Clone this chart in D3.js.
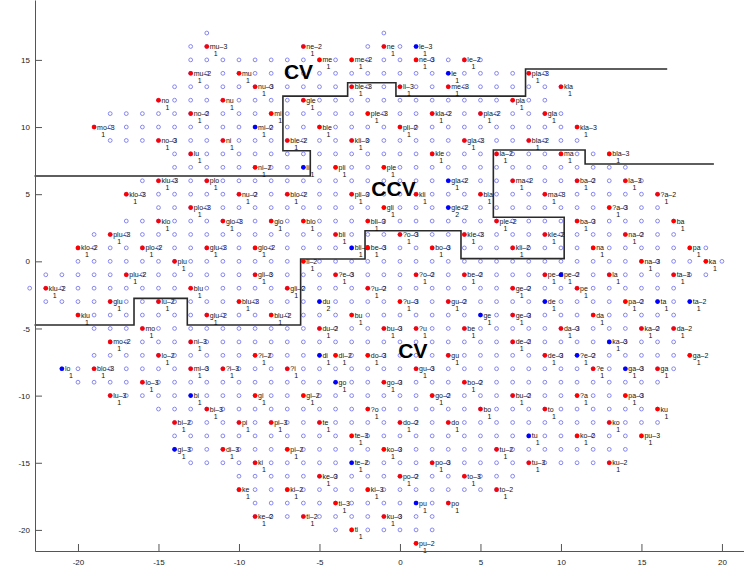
<!DOCTYPE html>
<html>
<head>
<meta charset="utf-8">
<script src="https://cdn.jsdelivr.net/npm/d3@7"></script>
<style>
body { margin: 0; background: #fff; }
svg text { font-family: "Liberation Sans", Arial, Helvetica, sans-serif; }
</style>
</head>
<body>
<div class="chart"></div>
<script>
var width = 744
var height = 567

var xTicks = [-20, -15, -10, -5, 0, 5, 10, 15, 20]
var yTicks = [-20, -15, -10, -5, 0, 5, 10, 15]

// open circle grid, one entry per run of a row: [y, first x, last x]
var gridRows = [
    [17, -12, -12], [17, -1, -1],
    [16, -13, -12], [16, -6, -6], [16, -2, 1],
    [15, -13, 5],
    [14, -13, 9],
    [13, -14, 10],
    [12, -15, 9],
    [11, -18, 10],
    [10, -19, 11],
    [9, -18, 11],
    [8, -14, 13],
    [7, -14, 14],
    [6, -16, 15],
    [5, -17, 16],
    [4, -15, 16],
    [3, -17, 17],
    [2, -19, 17],
    [1, -20, 19],
    [0, -20, 20],
    [-1, -22, 19],
    [-2, -23, 17],
    [-3, -22, 18],
    [-4, -20, 17],
    [-5, -19, 17],
    [-6, -18, 17],
    [-7, -19, 18],
    [-8, -21, 17],
    [-9, -20, 16],
    [-10, -18, 15],
    [-11, -15, 16],
    [-12, -14, 16],
    [-13, -14, 15],
    [-14, -14, 14],
    [-15, -13, 13],
    [-16, -10, 7],
    [-17, -10, 6],
    [-18, -9, 3],
    [-19, -9, 2],
    [-20, -4, 2],
    [-21, 1, 1]
]

// labelled syllables: [label, x, y, count, group] (r = red, b = blue)
var syllables = [
    ['mu-3', -12, 16, 1, 'r'], ['ne-2', -6, 16, 1, 'r'], ['ne', -1, 16, 1, 'r'], ['le-3', 1, 16, 1, 'b'],
    ['me', -5, 15, 1, 'r'], ['me-2', -3, 15, 1, 'r'], ['ne-3', 1, 15, 1, 'r'], ['le-2', 4, 15, 1, 'r'],
    ['mu-2', -13, 14, 1, 'r'], ['mu', -10, 14, 1, 'r'], ['le', 3, 14, 1, 'b'], ['pla-3', 8, 14, 1, 'r'],
    ['nu-3', -9, 13, 1, 'r'], ['ble-3', -3, 13, 1, 'r'], ['li-3', 0, 13, 1, 'r'], ['me-3', 3, 13, 1, 'r'], ['kla', 10, 13, 1, 'r'],
    ['no', -15, 12, 1, 'r'], ['nu', -11, 12, 1, 'r'], ['gle', -6, 12, 1, 'r'], ['pla', 7, 12, 1, 'r'],
    ['no-2', -13, 11, 1, 'r'], ['mi', -8, 11, 1, 'r'], ['ple-3', -2, 11, 1, 'r'], ['kla-2', 2, 11, 1, 'r'], ['pla-2', 5, 11, 1, 'r'], ['gla', 9, 11, 1, 'r'],
    ['mo-3', -19, 10, 1, 'r'], ['mi-2', -9, 10, 1, 'b'], ['ble', -5, 10, 1, 'r'], ['pli-2', 0, 10, 1, 'r'], ['kla-3', 11, 10, 1, 'r'],
    ['no-3', -15, 9, 1, 'r'], ['ni', -11, 9, 1, 'r'], ['ble-2', -7, 9, 1, 'r'], ['kli-3', -3, 9, 1, 'r'], ['gla-3', 4, 9, 1, 'r'], ['bla-2', 8, 9, 1, 'r'],
    ['lu', -13, 8, 1, 'r'], ['kle', 2, 8, 1, 'r'], ['la-2', 6, 8, 1, 'r'], ['ma', 10, 8, 1, 'r'], ['bla-3', 13, 8, 1, 'r'],
    ['ni-2', -9, 7, 1, 'r'], ['li', -6, 7, 1, 'b'], ['pli', -4, 7, 1, 'r'], ['ple', -1, 7, 1, 'r'],
    ['klu-3', -15, 6, 1, 'r'], ['plo', -12, 6, 1, 'r'], ['gla-2', 3, 6, 1, 'b'], ['ma-2', 7, 6, 1, 'r'], ['ba-2', 11, 6, 1, 'r'], ['la-3', 14, 6, 1, 'r'],
    ['klo-3', -17, 5, 1, 'r'], ['nu-2', -10, 5, 1, 'r'], ['blo-2', -7, 5, 1, 'r'], ['pli-3', -3, 5, 1, 'r'], ['kli', 1, 5, 1, 'r'], ['bla', 5, 5, 1, 'r'], ['ma-3', 9, 5, 1, 'r'], ['?a-2', 16, 5, 1, 'r'],
    ['plo-3', -13, 4, 1, 'r'], ['gli', -1, 4, 1, 'r'], ['gle-2', 3, 4, 2, 'b'], ['?a-3', 13, 4, 1, 'r'],
    ['klo', -15, 3, 1, 'r'], ['glo-3', -11, 3, 1, 'r'], ['glo', -8, 3, 1, 'r'], ['blo', -6, 3, 1, 'r'], ['bli-3', -2, 3, 1, 'r'], ['ple-2', 6, 3, 1, 'r'], ['ba-3', 11, 3, 1, 'r'], ['ba', 17, 3, 1, 'r'],
    ['plu-3', -18, 2, 1, 'r'], ['bli', -4, 2, 1, 'r'], ['?o-3', 0, 2, 1, 'r'], ['kle-3', 4, 2, 1, 'r'], ['kle-2', 9, 2, 1, 'r'], ['na-2', 14, 2, 1, 'r'],
    ['klo-2', -20, 1, 1, 'r'], ['plo-2', -16, 1, 1, 'r'], ['glu-3', -12, 1, 1, 'r'], ['glo-2', -9, 1, 1, 'r'], ['bli-2', -3, 1, 1, 'b'], ['be-3', -2, 1, 1, 'r'], ['bo-3', 2, 1, 1, 'r'], ['kli-2', 7, 1, 1, 'r'], ['na', 12, 1, 1, 'r'], ['pa', 18, 1, 1, 'r'],
    ['plu', -14, 0, 1, 'r'], ['li-2', -6, 0, 1, 'r'], ['na-3', 15, 0, 1, 'r'], ['ka', 19, 0, 1, 'r'],
    ['plu-2', -17, -1, 1, 'r'], ['gli-3', -9, -1, 1, 'r'], ['?e-3', -4, -1, 1, 'r'], ['?o-2', 1, -1, 1, 'r'], ['be-2', 4, -1, 1, 'r'], ['pe-3', 9, -1, 1, 'r'], ['pe-2', 10, -1, 1, 'b'], ['la', 13, -1, 1, 'r'], ['ta-3', 17, -1, 1, 'r'],
    ['klu-2', -22, -2, 1, 'r'], ['blu', -13, -2, 1, 'r'], ['gli-2', -7, -2, 1, 'r'], ['?u-2', -2, -2, 1, 'r'], ['ge-2', 7, -2, 1, 'r'], ['pe', 11, -2, 1, 'r'],
    ['glu', -18, -3, 1, 'r'], ['lu-2', -15, -3, 1, 'r'], ['blu-3', -10, -3, 1, 'r'], ['du', -5, -3, 2, 'b'], ['?u-3', 0, -3, 1, 'r'], ['gu-2', 3, -3, 1, 'r'], ['de', 9, -3, 1, 'b'], ['pa-2', 14, -3, 1, 'r'], ['ta', 16, -3, 1, 'b'], ['ta-2', 18, -3, 1, 'b'],
    ['klu', -20, -4, 1, 'r'], ['glu-2', -12, -4, 1, 'r'], ['blu-2', -8, -4, 1, 'r'], ['bu', -3, -4, 1, 'r'], ['ge', 5, -4, 1, 'b'], ['ge-3', 7, -4, 1, 'r'], ['da', 12, -4, 1, 'r'],
    ['mo', -16, -5, 1, 'r'], ['du-2', -5, -5, 1, 'r'], ['bu-3', -1, -5, 1, 'r'], ['?u', 1, -5, 1, 'r'], ['be', 4, -5, 1, 'r'], ['da-3', 10, -5, 1, 'r'], ['ka-2', 15, -5, 1, 'r'], ['da-2', 17, -5, 1, 'r'],
    ['mo-2', -18, -6, 1, 'r'], ['ni-3', -13, -6, 1, 'r'], ['de-2', 7, -6, 1, 'r'], ['ka-3', 13, -6, 1, 'b'],
    ['lo-2', -15, -7, 1, 'r'], ['?i-2', -9, -7, 1, 'r'], ['di', -5, -7, 1, 'b'], ['di-2', -4, -7, 1, 'r'], ['do-3', -2, -7, 1, 'r'], ['gu', 3, -7, 1, 'r'], ['de-3', 9, -7, 1, 'r'], ['?e-2', 11, -7, 1, 'b'], ['ga-2', 18, -7, 1, 'r'],
    ['lo', -21, -8, 1, 'b'], ['blo-3', -19, -8, 1, 'r'], ['mi-3', -13, -8, 1, 'r'], ['?i-3', -11, -8, 1, 'r'], ['?i', -7, -8, 1, 'r'], ['gu-3', 1, -8, 1, 'r'], ['?e', 12, -8, 1, 'r'], ['ga-3', 14, -8, 1, 'b'], ['ga', 16, -8, 1, 'r'],
    ['lo-3', -16, -9, 1, 'r'], ['go', -4, -9, 1, 'b'], ['go-3', -1, -9, 1, 'r'], ['bo-2', 4, -9, 1, 'r'],
    ['lu-3', -18, -10, 1, 'r'], ['bi', -13, -10, 1, 'b'], ['gi', -9, -10, 1, 'r'], ['gi-2', -6, -10, 1, 'r'], ['go-2', 2, -10, 1, 'r'], ['bu-2', 7, -10, 1, 'r'], ['?a', 11, -10, 1, 'r'], ['pa-3', 14, -10, 1, 'r'],
    ['bi-3', -12, -11, 1, 'r'], ['?o', -2, -11, 1, 'r'], ['bo', 5, -11, 1, 'r'], ['to', 9, -11, 1, 'r'], ['ku', 16, -11, 1, 'r'],
    ['bi-2', -14, -12, 1, 'r'], ['pi', -10, -12, 1, 'r'], ['pi-3', -8, -12, 1, 'r'], ['te', -5, -12, 1, 'r'], ['do-2', 0, -12, 1, 'r'], ['do', 3, -12, 1, 'r'], ['ko', 13, -12, 1, 'r'],
    ['te-3', -3, -13, 1, 'r'], ['tu', 8, -13, 1, 'b'], ['ko-2', 11, -13, 1, 'r'], ['pu-3', 15, -13, 1, 'r'],
    ['gi-3', -14, -14, 1, 'b'], ['di-3', -11, -14, 1, 'r'], ['pi-2', -7, -14, 1, 'r'], ['ko-3', -1, -14, 1, 'r'], ['tu-2', 6, -14, 1, 'r'],
    ['ki', -9, -15, 1, 'r'], ['te-2', -3, -15, 1, 'b'], ['po-3', 2, -15, 1, 'r'], ['tu-3', 8, -15, 1, 'r'], ['ku-2', 13, -15, 1, 'r'],
    ['ke-3', -5, -16, 1, 'r'], ['po-2', 0, -16, 1, 'r'], ['to-3', 4, -16, 1, 'r'],
    ['ke', -10, -17, 1, 'r'], ['ki-2', -7, -17, 1, 'r'], ['ki-3', -2, -17, 1, 'r'], ['to-2', 6, -17, 1, 'r'],
    ['ti-3', -4, -18, 1, 'r'], ['pu', 1, -18, 1, 'b'], ['po', 3, -18, 1, 'r'],
    ['ke-2', -9, -19, 1, 'r'], ['ti-2', -6, -19, 1, 'r'], ['ku-3', -1, -19, 1, 'r'],
    ['ti', -3, -20, 1, 'r'],
    ['pu-2', 1, -21, 1, 'r']
]

// region borders, vertices in data units
var upperBorder = [[-22.7, 6.35], [-5.57, 6.35], [-5.57, 8.24], [-7.27, 8.24], [-7.27, 12.3], [-3.25, 12.3],
    [-3.25, 13.3], [-0.25, 13.3], [-0.25, 12.3], [7.8, 12.3], [7.8, 14.32], [16.6, 14.32]]
var lowerBorder = [[-22.7, -4.74], [-16.52, -4.74], [-16.52, -2.76], [-13.21, -2.76], [-13.21, -4.74],
    [-6.17, -4.74], [-6.17, 0.17], [-2.17, 0.17], [-2.17, 2.28], [3.79, 2.28], [3.79, 0.2], [10.2, 0.2],
    [10.2, 3.28], [5.8, 3.28], [5.8, 8.29], [11.5, 8.29], [11.5, 7.25], [19.5, 7.25]]

var regionNames = ['CV', 'CCV', 'CV']
var regionX = [-6.3, -0.4, 0.8]
var regionY = [14.1, 5.45, -6.65]

var svg = d3.select('.chart')
    .append('svg')
    .attr('width', width)
    .attr('height', height)

var x = d3.scaleLinear().domain([-22.67, 21.37]).range([35, 744])
var y = d3.scaleLinear().domain([-21.57, 19.46]).range([551, 0])

// grid of open circles
var grid = []
gridRows.forEach(function (r) {
    for (var k = r[1]; k <= r[2]; k++) grid.push({x: k, y: r[0]})
})

svg.append('g')
    .selectAll('circle')
    .data(grid)
    .enter()
    .append('circle')
    .attr('cx', function (d) { return x(d.x) })
    .attr('cy', function (d) { return y(d.y) })
    .attr('r', 1.9)
    .attr('fill', 'none')
    .attr('stroke', '#7373ee')
    .attr('stroke-width', 0.85)

// borders
var line = d3.line()
    .x(function (d) { return x(d[0]) })
    .y(function (d) { return y(d[1]) })

svg.selectAll('.border')
    .data([upperBorder, lowerBorder])
    .enter()
    .append('path')
    .attr('class', 'border')
    .attr('d', line)
    .attr('fill', 'none')
    .attr('stroke', '#2a2a2a')
    .attr('stroke-width', 1.6)

// filled syllable dots + labels
var marks = svg.append('g')
    .selectAll('g')
    .data(syllables)
    .enter()
    .append('g')
    .attr('transform', function (d) { return 'translate(' + x(d[1]) + ',' + y(d[2]) + ')' })

marks.append('circle')
    .attr('r', 2.3)
    .attr('fill', function (d) { return d[4] == 'b' ? '#0000ff' : '#ff0000' })

marks.append('text')
    .attr('x', 3)
    .attr('y', 2.5)
    .attr('font-size', 7)
    .attr('fill', '#111')
    .text(function (d) { return d[0].replace('-', '\u2013') })

marks.append('text')
    .attr('x', 9)
    .attr('y', 9.5)
    .attr('font-size', 7)
    .attr('text-anchor', 'middle')
    .attr('fill', '#111')
    .text(function (d) { return d[3] })

// big region names
svg.selectAll('.region')
    .data(regionNames)
    .enter()
    .append('text')
    .attr('class', 'region')
    .attr('x', function (d, i) { return x(regionX[i]) })
    .attr('y', function (d, i) { return y(regionY[i]) })
    .attr('text-anchor', 'middle')
    .attr('dominant-baseline', 'central')
    .attr('font-size', 21)
    .attr('font-weight', 'bold')
    .text(function (d) { return d })

// axes
var xAxis = d3.axisBottom(x)
    .tickValues(xTicks)
    .tickSizeInner(-7)
    .tickSizeOuter(0)
    .tickPadding(8)
    .tickFormat(function (d) { return String(d) })

var yAxis = d3.axisLeft(y)
    .tickValues(yTicks)
    .tickSizeInner(-7)
    .tickSizeOuter(0)
    .tickPadding(5)
    .tickFormat(function (d) { return String(d) })

svg.append('g')
    .attr('transform', 'translate(0,551)')
    .call(xAxis)

svg.append('g')
    .attr('transform', 'translate(35,0)')
    .call(yAxis)

svg.selectAll('.tick text').attr('font-size', 8).attr('fill', '#222').attr('font-family', null)
svg.selectAll('.domain, .tick line').attr('stroke', '#555')
</script>
</body>
</html>
